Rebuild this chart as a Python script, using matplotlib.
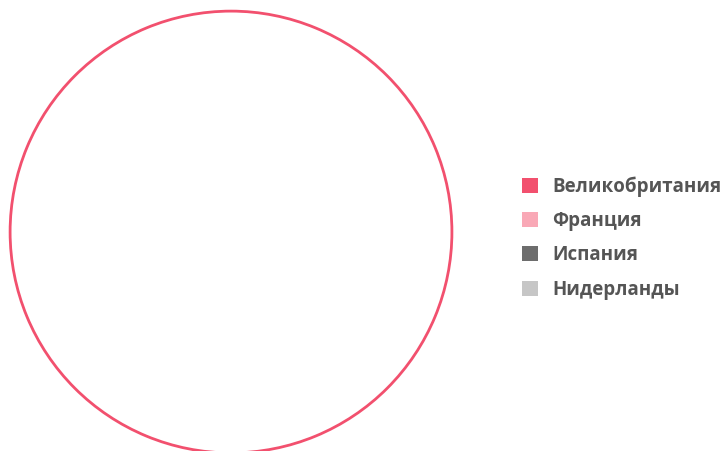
import matplotlib
matplotlib.use("Agg")
import matplotlib.pyplot as plt
from matplotlib.patches import Patch

# Данные
paises = ["Великобритания", "Франция", "Испания", "Нидерланды"]
valores = [100, 0, 0, 0]
colores = ["#f2506e", "#f9a8b6", "#6d6d6d", "#c6c6c6"]

fig = plt.figure(figsize=(7.2, 4.51), dpi=100)
fig.patch.set_facecolor("white")

ax = fig.add_axes([0.0125, -0.0067, 0.6167, 0.9845])

# solo las porciones no nulas (una porción de 0 dibuja una línea radial)
vals = [v for v in valores if v > 0]
cols = [c for v, c in zip(valores, colores) if v > 0]
wedges, _ = ax.pie(vals, radius=1, startangle=90, counterclock=False,
                   wedgeprops=dict(facecolor="white", linewidth=2))
for w, c in zip(wedges, cols):
    w.set_edgecolor(c)
    w.set_facecolor("white")
ax.set_xlim(-1.005, 1.005)
ax.set_ylim(-1.005, 1.005)
ax.set_aspect("auto")
ax.axis("off")

handles = [Patch(facecolor=c, edgecolor="none") for c in colores]
leg = fig.legend(handles, paises, loc="center left", bbox_to_anchor=(0.7015, 0.4725),
                 frameon=False, handlelength=0.85, handleheight=0.85,
                 handletextpad=0.75, labelspacing=0.76,
                 prop=dict(family="Open Sans", weight="bold", size=13.5))
for t in leg.get_texts():
    t.set_color("#555555")

fig.savefig("out.png", dpi=100)
plt.close(fig)
